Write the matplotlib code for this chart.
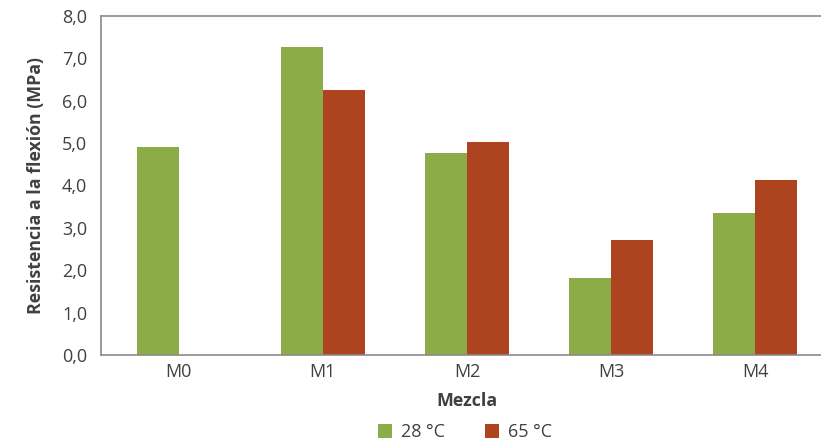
import matplotlib
matplotlib.use("Agg")
import matplotlib.pyplot as plt
import numpy as np

plt.rcParams['font.family'] = ['Open Sans', 'DejaVu Sans']

mezclas = ["M0", "M1", "M2", "M3", "M4"]
t28 = [4.90, 7.27, 4.76, 1.82, 3.34]
t65 = [np.nan, 6.25, 5.02, 2.72, 4.14]
ticks = np.arange(0, 9, 1.0)

fig = plt.figure(figsize=(8.21, 4.41), dpi=100)
ax = fig.add_axes([0.123, 0.195, 0.8916, 0.769])

x = np.arange(len(mezclas))
w = 0.29
ax.bar(x - w / 2, t28, w, color="#8CAC47", label="28 °C")
ax.bar(x + w / 2, t65, w, color="#AE4320", label="65 °C")

ax.set_xlim(-0.54, 4.54)
ax.set_ylim(0, 8)
ax.set_yticks(ticks)
ax.set_yticklabels([f"{t:.1f}".replace(".", ",") for t in ticks])
ax.set_xticks(x)
ax.set_xticklabels(mezclas)
ax.tick_params(length=0, labelsize=13, colors="#404040", pad=6)
ax.tick_params(axis="y", pad=10)

for s in ax.spines.values():
    s.set_color("#8a8a8a")
    s.set_linewidth(1.2)

ax.set_ylabel("Resistencia a la flexión (MPa)", fontsize=12.8, fontweight="bold",
              color="#404040", labelpad=12)
ax.set_xlabel("Mezcla", fontsize=12.8, fontweight="bold", color="#404040", labelpad=8)

ax.legend(loc="center", bbox_to_anchor=(465 / 821, 9 / 441), bbox_transform=fig.transFigure,
          ncol=2, frameon=False, fontsize=13, handlelength=0.8, handleheight=0.8,
          columnspacing=2.2, handletextpad=0.5, labelcolor="#404040")

fig.savefig("out.png", dpi=100)
